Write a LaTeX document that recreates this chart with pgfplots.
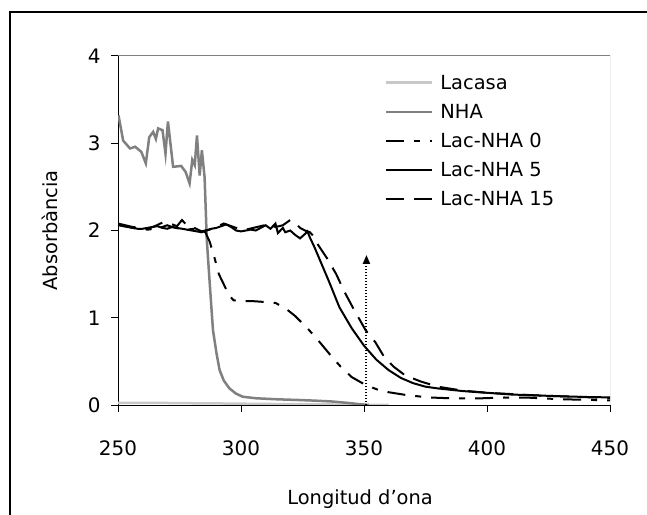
\documentclass[border=0pt]{standalone}
\usepackage{fontspec}
\setmainfont{DejaVu Sans}
\usepackage{pgfplots}
\pgfplotsset{compat=1.18}
\usetikzlibrary{arrows.meta}

\definecolor{nhagray}{HTML}{808080}
\definecolor{lacgray}{HTML}{C8C8C8}

\begin{document}
\begin{tikzpicture}
\useasboundingbox (0,0) rectangle (647bp,515bp);
% outer frame (only left and top visible)
\draw[line width=1.5bp] (10bp,-5bp) -- (10bp,503bp) -- (660bp,503bp);

\begin{axis}[
    at={(118bp,110bp)}, anchor=south west,
    scale only axis,
    width=492bp, height=349bp,
    xmin=250, xmax=450, ymin=0, ymax=4,
    xtick={250,300,350,400,450},
    ytick={0,1,2,3,4},
    axis x line*=bottom, axis y line*=left,
    axis line style={-, black, line width=1bp},
    tick align=outside,
    major tick length=7bp,
    tick style={black, line width=1bp},
    /pgf/number format/assume math mode=true,
    tick label style={font=\fontsize{20}{23}\selectfont},
    xticklabel style={yshift=-25bp},
    yticklabel style={xshift=-7bp},
    label style={font=\fontsize{19.5}{23}\selectfont},
    xlabel={Longitud d'ona},
    ylabel={Absorbància},
    xlabel style={at={(axis description cs:0.492,-0.269)}, anchor=center},
    ylabel style={at={(axis description cs:-0.138,0.5)}, anchor=center},
    legend cell align=left,
    legend style={draw=none, fill=none, at={(0.536,0.958)}, anchor=north west,
        font=\fontsize{19.5}{23}\selectfont, row sep=9.5bp,
        /tikz/every odd column/.append style={column sep=5bp}},
    legend image code/.code={\draw[#1] (0bp,0bp) -- (46bp,0bp);},
    clip=true,
]

\addplot[lacgray, line width=2.5bp, no markers] coordinates {
(250,0.025)(260,0.025)(270,0.023)(280,0.02)(290,0.018)(300,0.015)(310,0.012)(320,0.01)(330,0.008)(340,0.005)(350,0.002)(360,0.0)
};
\addlegendentry{Lacasa}

\addplot[nhagray, line width=2.5bp, no markers] coordinates {
(250.2,3.32)(252.1,3.03)(254.9,2.94)(257,2.96)(259.5,2.90)(261.3,2.77)(262.7,3.07)
(264.3,3.13)(265.4,3.05)(266.3,3.17)(268.1,3.15)(269.3,2.88)(270.3,3.25)(272.4,2.73)
(275.7,2.74)(277.5,2.67)(279.1,2.54)(280.2,2.81)(281.2,2.75)(282.1,3.09)(283.2,2.63)
(284.1,2.92)(285.2,2.61)(286.1,1.89)(287.2,1.43)(288.6,0.86)(290,0.6)(291.3,0.40)
(293,0.28)(295.3,0.19)(298,0.13)(300.7,0.095)(306.1,0.077)(315,0.065)(323.7,0.057)
(330,0.05)(337,0.04)(343,0.025)(348,0.01)(352,0.0)
};
\addlegendentry{NHA}

\addplot[black, line width=2bp, dash pattern=on 18bp off 10bp on 6bp off 10bp, no markers] coordinates {
(250,2.06)(253,2.05)(256,2.03)(259,2.02)(262,2.01)(265,2.02)(268,2.04)(270,2.06)
(272,2.04)(275,2.02)(278,2.01)(281,2.02)(284,2.0)(285.5,1.98)(287.3,1.87)(289.3,1.68)
(291,1.5)(293.4,1.36)(295,1.26)(297,1.2)(300,1.19)(305,1.19)(310,1.18)(314,1.17)
(318,1.11)(322,1.02)(327,0.88)(331.7,0.73)(337,0.55)(340.5,0.44)(345,0.32)(350.6,0.23)
(357,0.16)(367,0.115)(376,0.087)(386,0.076)(397,0.076)(407,0.086)(417,0.084)(430,0.066)
(444,0.057)(450,0.052)
};
\addlegendentry{Lac-NHA 0}

\addplot[black, line width=2bp, no markers] coordinates {
(250,2.07)(252,2.05)(254,2.04)(256,2.03)(258,2.02)(260,2.02)(262,2.03)(264,2.04)
(266,2.05)(268,2.03)(270,2.02)(272,2.04)(274,2.03)(276,2.02)(278,2.01)(280,2.0)
(282,1.99)(284,1.98)(286,2.0)(288,2.02)(290,2.03)(292,2.05)(294,2.07)(296,2.04)
(298,2.0)(300,1.99)(302,2.0)(304,2.01)(306,2.0)(308,2.03)(310,2.06)(312,2.02)
(314,2.08)(315,1.97)(317,2.03)(318,1.98)(320,2.0)(322,1.95)(324,1.91)(326,1.96)
(327,1.99)(328,1.92)(330,1.8)(333,1.6)(336,1.4)(340,1.12)(345,0.88)(350,0.68)
(355,0.52)(360,0.4)(365,0.31)(370,0.25)(375,0.21)(380,0.19)(390,0.16)(400,0.14)
(410,0.12)(420,0.11)(430,0.10)(440,0.092)(450,0.087)
};
\addlegendentry{Lac-NHA 5}

\addplot[black, line width=2bp, dash pattern=on 18bp off 10bp, no markers] coordinates {
(250,2.08)(253,2.06)(256,2.04)(259,2.03)(262,2.02)(265,2.05)(268,2.09)(271,2.08)
(274,2.05)(276,2.12)(278,2.06)(281,2.03)(284,1.99)(287,2.01)(290,2.04)(293,2.08)
(296,2.05)(299,2.02)(302,2.01)(305,2.03)(308,2.05)(311,2.07)(314,2.04)(317,2.06)
(320,2.12)(322,2.09)(324,2.03)(326,2.0)(328,1.98)(330,1.92)(331,1.85)(335,1.68)
(338.7,1.5)(342,1.3)(345.6,1.11)(350.6,0.86)(354.6,0.72)(358,0.56)(362,0.44)
(366.7,0.34)(373,0.27)(380,0.21)(390,0.165)(400,0.14)(410,0.125)(420,0.11)
(430,0.1)(440,0.09)(450,0.08)
};
\addlegendentry{Lac-NHA 15}

% gray top and right border of the plot area
\draw[nhagray, line width=1bp] (rel axis cs:0,1) -- (rel axis cs:1,1) -- (rel axis cs:1,0);
% dotted arrow at 350 nm
\draw[black, line width=2bp, dash pattern=on 1.5bp off 1.5bp,
      -{Triangle[length=9bp,width=7bp]}] (axis cs:351,0) -- (axis cs:351,1.72);
\end{axis}
\end{tikzpicture}
\end{document}
